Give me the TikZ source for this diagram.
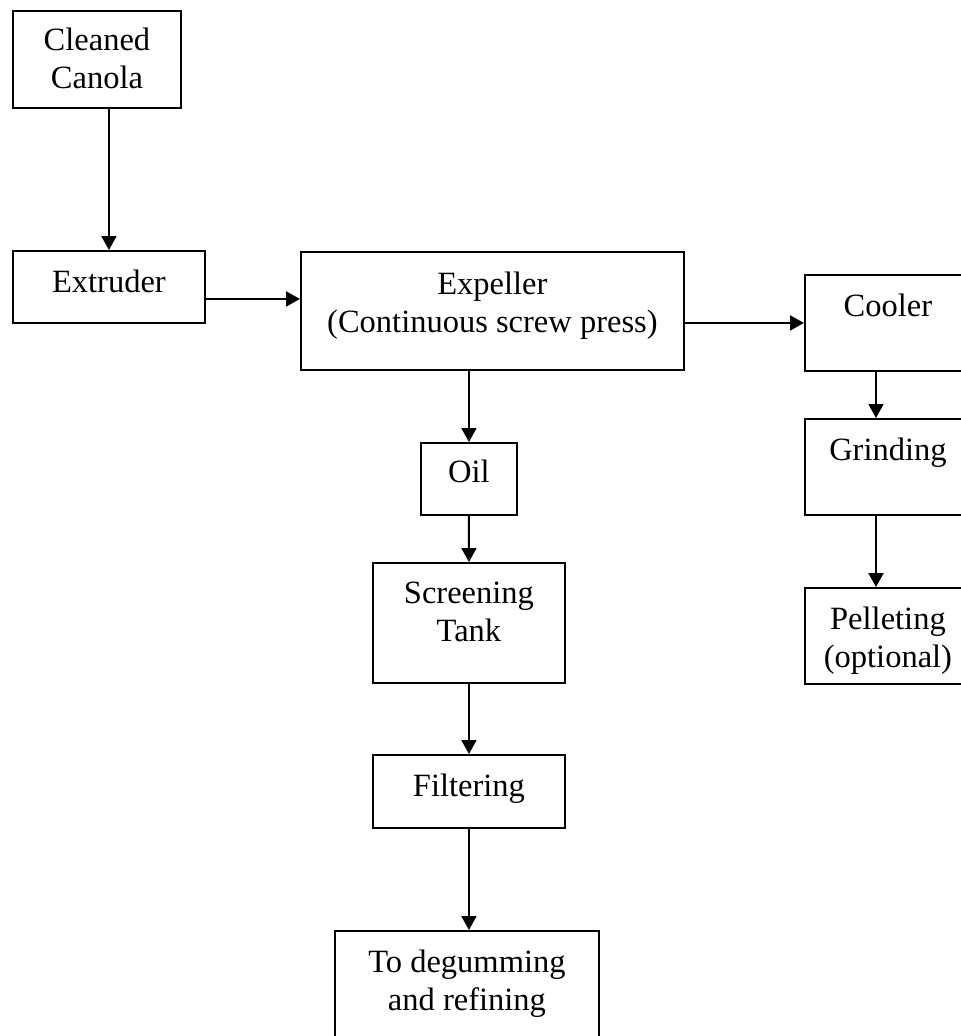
\documentclass[tikz,border=0pt]{standalone}
\usepackage{fontspec}
\setmainfont{Liberation Serif}
\usetikzlibrary{arrows.meta,positioning}

\tikzset{
  stage/.style={draw, line width=1.1pt, inner sep=0pt, anchor=north west},
  txt/.style={align=center, inner sep=0pt, font=\fontsize{18.5}{21.6}\selectfont},
  flow/.style={line width=1.1pt, -{Triangle[length=0.28cm,width=0.3cm]}}
}

\begin{document}
\begin{tikzpicture}[x=0.02cm,y=-0.02cm]
\clip (0,0) rectangle (961,1036);
\node[stage, minimum width=3.36cm, minimum height=1.94cm] (canola) at (12,10) {};
\node[stage, minimum width=3.84cm, minimum height=1.44cm] (extruder) at (12,250) {};
\node[stage, minimum width=7.66cm, minimum height=2.36cm] (expeller) at (300,251) {};
\node[stage, minimum width=3.32cm, minimum height=1.92cm] (cooler) at (804,274) {};
\node[stage, minimum width=3.32cm, minimum height=1.92cm] (grinding) at (804,418) {};
\node[stage, minimum width=3.32cm, minimum height=1.92cm] (pelleting) at (804,587) {};
\node[stage, minimum width=1.92cm, minimum height=1.44cm] (oil) at (420,442) {};
\node[stage, minimum width=3.84cm, minimum height=2.40cm] (screening) at (372,562) {};
\node[stage, minimum width=3.84cm, minimum height=1.46cm] (filtering) at (372,754) {};
\node[stage, minimum width=5.28cm, minimum height=2.60cm] (degumming) at (334,930) {};
\coordinate (rcol) at (876,0);

\node[txt, below=0.36cm of canola.north] (canola-t) {Cleaned\\Canola};
\node[txt, below=0.4cm of extruder.north] (extruder-t) {Extruder};
\node[txt, below=0.42cm of expeller.north] (expeller-t) {Expeller\\(Continuous screw press)};
\node[txt, below=0.4cm of cooler.north] (cooler-t) {Cooler};
\node[txt, below=0.4cm of grinding.north] (grinding-t) {Grinding};
\node[txt, below=0.4cm of pelleting.north] (pelleting-t) {Pelleting\\(optional)};
\node[txt, below=0.36cm of oil.north] (oil-t) {Oil};
\node[txt, below=0.4cm of screening.north] (screening-t) {Screening\\Tank};
\node[txt, below=0.4cm of filtering.north] (filtering-t) {Filtering};
\node[txt, below=0.4cm of degumming.north] (degumming-t) {To degumming\\and refining};

\draw[flow] (canola.south -| extruder.north) -- (extruder.north);
\draw[flow] ([yshift=-0.24cm]extruder.east) -- ([yshift=-0.24cm]extruder.east -| expeller.west);
\draw[flow] (cooler.west -| expeller.east) -- (cooler.west);
\draw[flow] (expeller.south -| oil.north) -- (oil.north);
\draw[flow] (oil) -- (screening);
\draw[flow] (screening) -- (filtering);
\draw[flow] (filtering.south) -- (filtering.south |- degumming.north);
\draw[flow] (cooler.south -| rcol) -- (grinding.north -| rcol);
\draw[flow] (grinding.south -| rcol) -- (pelleting.north -| rcol);
\end{tikzpicture}
\end{document}
